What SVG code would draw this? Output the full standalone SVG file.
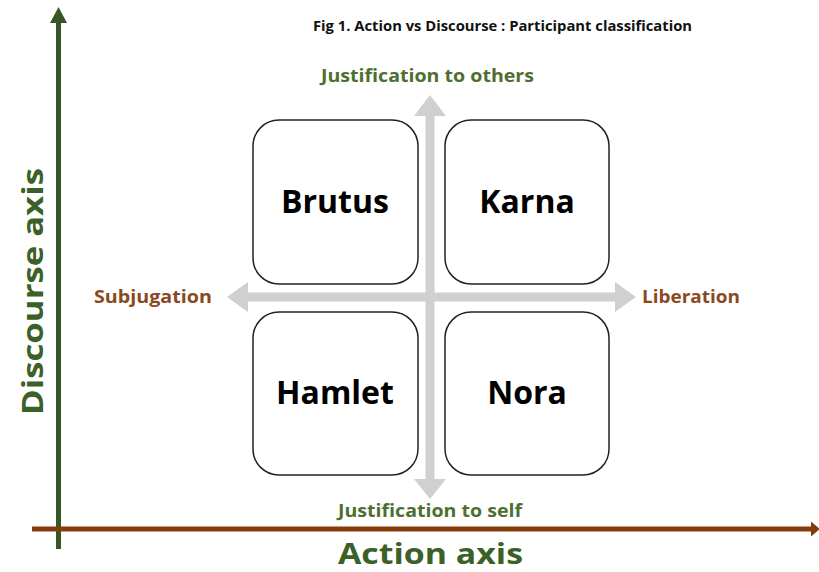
<svg xmlns="http://www.w3.org/2000/svg" width="819" height="572" viewBox="0 0 819 572">
  <style>
    text { font-family: "Open Sans", "Liberation Sans", sans-serif; font-weight: bold; }
    .title { font-size: 15px; fill: #111111; }
    .name { font-size: 32px; fill: #000000; text-anchor: middle; }
    .vlabel { font-size: 17px; fill: #4e6f30; }
    .hlabel { font-size: 17px; fill: #8a4a1f; }
    .axis { font-size: 29px; fill: #3b6128; }
    .box { fill: #ffffff; stroke: #222222; stroke-width: 1.5; }
    .cross { fill: #d0d0d0; }
  </style>

  <rect width="819" height="572" fill="#ffffff"/>

  <text class="title" x="313" y="31" textLength="379" lengthAdjust="spacingAndGlyphs">Fig 1. Action vs Discourse : Participant classification</text>

  <g id="connectors">
    <!-- gray quadrant cross -->
    <path class="cross" d="M430,95 L446,116 L434.5,116 L434.5,479 L446,479 L430,499 L414,479 L425.5,479 L425.5,116 L414,116 Z"/>
    <path class="cross" d="M227,297 L248,282 L248,292.5 L615,292.5 L615,282 L636,297 L615,312 L615,301.5 L248,301.5 L248,312 Z"/>
    <!-- discourse axis (vertical) -->
    <path d="M58.5,549 L58.5,22" stroke="#375623" stroke-width="5" fill="none"/>
    <path d="M58.5,7 L67,23 L50,23 Z" fill="#375623"/>
    <!-- action axis (horizontal) -->
    <path d="M32,529 L812,529" stroke="#843c0c" stroke-width="5" fill="none"/>
    <path d="M820,529 L811,521.5 L811,536.5 Z" fill="#843c0c"/>
  </g>

  <g id="brutus">
    <rect class="box" x="253" y="120" width="165" height="164" rx="26"/>
    <text class="name" x="335" y="213">Brutus</text>
  </g>
  <g id="karna">
    <rect class="box" x="445" y="120" width="164" height="164" rx="26"/>
    <text class="name" x="527" y="213">Karna</text>
  </g>
  <g id="hamlet">
    <rect class="box" x="253" y="312" width="165" height="163" rx="26"/>
    <text class="name" x="335" y="404">Hamlet</text>
  </g>
  <g id="nora">
    <rect class="box" x="445" y="312" width="164" height="163" rx="26"/>
    <text class="name" x="527" y="404">Nora</text>
  </g>

  <text class="vlabel" x="321" y="82" textLength="213" lengthAdjust="spacingAndGlyphs">Justification to others</text>
  <text class="vlabel" x="338" y="517" textLength="184" lengthAdjust="spacingAndGlyphs">Justification to self</text>
  <text class="hlabel" x="94" y="303" textLength="118" lengthAdjust="spacingAndGlyphs">Subjugation</text>
  <text class="hlabel" x="642" y="303" textLength="98" lengthAdjust="spacingAndGlyphs">Liberation</text>

  <text class="axis" x="338" y="564" textLength="185" lengthAdjust="spacingAndGlyphs">Action axis</text>
  <text class="axis" transform="translate(43,415) rotate(-90)" x="0" y="0" textLength="247" lengthAdjust="spacingAndGlyphs">Discourse axis</text>
</svg>
